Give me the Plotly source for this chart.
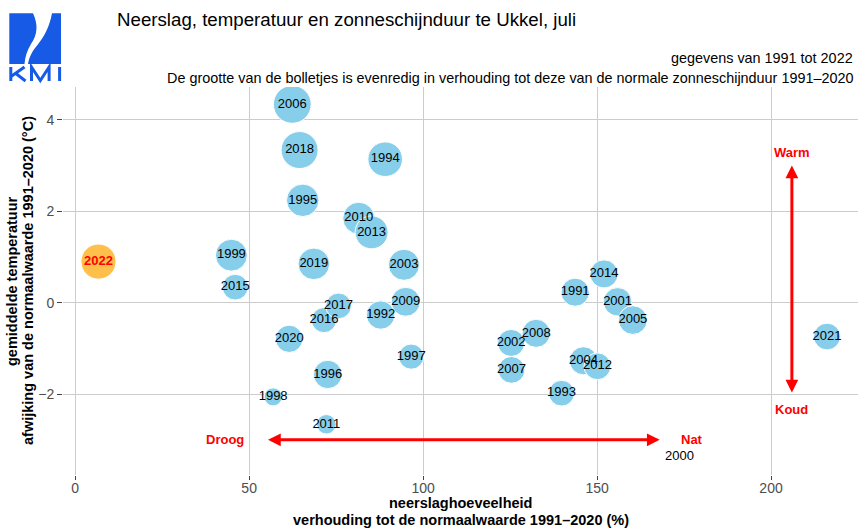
import plotly.graph_objects as go

# ---------------- data ----------------
years = list(range(1991, 2023))
rain_pct = [143.7, 87.8, 139.8, 89.1, 65.4, 72.6, 96.6, 56.9, 44.9, 173.7,
            155.9, 125.3, 94.5, 146.1, 160.3, 62.4, 125.4, 132.5, 95.0, 81.5,
            72.2, 150.1, 85.2, 152.0, 46.0, 71.5, 75.7, 64.5, 68.6, 61.5,
            216.1, 6.7]
temp_anom = [0.23, -0.27, -1.98, 3.14, 2.24, -1.57, -1.18, -2.06, 1.04, -3.37,
             0.02, -0.88, 0.83, -1.27, -0.38, 4.34, -1.47, -0.67, 0.02, 1.85,
             -2.66, -1.39, 1.54, 0.63, 0.34, -0.38, -0.07, 3.34, 0.85, -0.79,
             -0.74, 0.90]
sun_pct = [104, 105, 95, 128, 120, 105, 93, 67, 118, None,
           105, 100, 115, 104, 106, 140, 99, 104, 107, 118,
           72, 99, 122, 104, 95, 93, 95, 137, 117, 101,
           99, 130]
x_ticks = [0, 50, 100, 150, 200]
y_ticks = [-2, 0, 2, 4]

current_year = 2022

# ---------------- layout geometry ----------------
W, H = 862, 530
ML, MR, MT, MB = 63, 4, 87, 55
PW, PH = W - ML - MR, H - MT - MB
FONT = "Liberation Sans, Arial, Helvetica, sans-serif"
SKY = "#87CEEB"
ORANGE = "#FFA500"
RED = "#FF0000"


def px(x):
    return (x - ML) / PW


def py(y):
    return (H - MB - y) / PH


fig = go.Figure()

# bubbles (previous years)
bx, by, bs = [], [], []
for yr, r, t, s in zip(years, rain_pct, temp_anom, sun_pct):
    if yr != current_year and s is not None:
        bx.append(r); by.append(t); bs.append(s)
fig.add_trace(go.Scatter(
    x=bx, y=by, mode="markers",
    marker=dict(size=bs, sizemode="diameter", sizeref=3.7, color=SKY,
                line=dict(color="white", width=1), opacity=1),
    hoverinfo="skip", showlegend=False))

# current year bubble
ci = years.index(current_year)
fig.add_trace(go.Scatter(
    x=[rain_pct[ci]], y=[temp_anom[ci]], mode="markers",
    marker=dict(size=[sun_pct[ci]], sizemode="diameter", sizeref=3.7,
                color=ORANGE, line=dict(color="white", width=1)),
    hoverinfo="skip", showlegend=False))

# labels
labels = [("<b>%d</b>" % yr) if yr == current_year else str(yr) for yr in years]
colors = [RED if yr == current_year else "#000000" for yr in years]
fig.add_trace(go.Scatter(
    x=rain_pct, y=temp_anom, mode="text", text=labels,
    textposition="middle center",
    textfont=dict(family=FONT, size=13, color=colors),
    hoverinfo="skip", showlegend=False))

annotations = []

# arrows
arrow_common = dict(showarrow=True, text="", arrowcolor=RED, arrowwidth=3,
                    arrowhead=2, startarrowhead=2, arrowsize=0.85,
                    startarrowsize=0.85, arrowside="end+start",
                    axref="x", ayref="y", xref="x", yref="y",
                    standoff=0, startstandoff=0)
annotations.append(dict(x=168, y=-3, ax=55, ay=-3, **arrow_common))
annotations.append(dict(x=206, y=3, ax=206, ay=-2, **arrow_common))

red_font = dict(family=FONT, size=13, color=RED)
for txt, xx, yy in [("Droog", 43.2, -3.0), ("Nat", 177.3, -3.0),
                    ("Warm", 206, 3.28), ("Koud", 206, -2.33)]:
    annotations.append(dict(x=xx, y=yy, xref="x", yref="y", showarrow=False,
                            text="<b>%s</b>" % txt, font=red_font,
                            xanchor="center", yanchor="middle"))

# title & subtitles
annotations.append(dict(x=px(115), y=py(20), xref="paper", yref="paper",
                        xanchor="left", yanchor="middle", showarrow=False,
                        text="Neerslag, temperatuur en zonneschijnduur te Ukkel, juli",
                        font=dict(family=FONT, size=18.7, color="#000000")))
annotations.append(dict(x=px(855), y=py(58), xref="paper", yref="paper",
                        xanchor="right", yanchor="middle", showarrow=False,
                        text="gegevens van 1991 tot 2022",
                        font=dict(family=FONT, size=14.4, color="#000000")))
annotations.append(dict(x=px(855), y=py(78), xref="paper", yref="paper",
                        xanchor="right", yanchor="middle", showarrow=False,
                        text="De grootte van de bolletjes is evenredig in verhouding tot deze van de normale zonneschijnduur 1991\u20132020",
                        font=dict(family=FONT, size=14.4, color="#000000")))

# axis titles
tfont = dict(family=FONT, size=14.5, color="#000000")
annotations.append(dict(x=0.5, y=py(503), xref="paper", yref="paper",
                        showarrow=False, text="<b>neerslaghoeveelheid</b>",
                        font=tfont, xanchor="center", yanchor="middle"))
annotations.append(dict(x=0.5, y=py(520), xref="paper", yref="paper",
                        showarrow=False,
                        text="<b>verhouding tot de normaalwaarde 1991\u20132020 (%)</b>",
                        font=tfont, xanchor="center", yanchor="middle"))
annotations.append(dict(x=px(12), y=0.5, xref="paper", yref="paper",
                        showarrow=False, text="<b>gemiddelde temperatuur</b>",
                        font=tfont, textangle=-90, xanchor="center", yanchor="middle"))
annotations.append(dict(x=px(28), y=0.5, xref="paper", yref="paper",
                        showarrow=False,
                        text="<b>afwijking van de normaalwaarde 1991\u20132020 (\u00b0C)</b>",
                        font=tfont, textangle=-90, xanchor="center", yanchor="middle"))

# KMI logo
BLUE = "#165ae6"


def path(cmds):
    out = []
    for c in cmds:
        if isinstance(c, str):
            out.append(c)
        else:
            out.append("%.5f,%.5f" % (px(c[0]), py(c[1])))
    return " ".join(out)


left_piece = path(["M", (9.3, 13.3), "L", (33, 13.3),
                   "C", (38, 24), (38, 34), (31, 44),
                   "C", (27, 51), (25, 57), (24.5, 64),
                   "L", (9.3, 64), "Z"])
right_piece = path(["M", (52, 13.3), "L", (61, 13.3), "L", (61, 64),
                    "L", (28, 64),
                    "C", (29.5, 56), (33, 50), (37.5, 45),
                    "C", (44, 37), (49.5, 27), (52, 13.3), "Z"])
shapes = [dict(type="path", xref="paper", yref="paper", path=left_piece,
               fillcolor=BLUE, line=dict(width=0), layer="above"),
          dict(type="path", xref="paper", yref="paper", path=right_piece,
               fillcolor=BLUE, line=dict(width=0), layer="above")]
letters = [
    ["M", (10.8, 81), "L", (10.8, 67)],                       # K stem
    ["M", (24.5, 67), "L", (11, 76.5)],                       # K arm
    ["M", (15.5, 73.3), "L", (25.5, 81)],                     # K leg
    ["M", (31.5, 81), "L", (31.5, 67), "L", (40.3, 80.5),
     "L", (49.1, 67), "L", (49.1, 81)],                       # M
    ["M", (59.6, 67), "L", (59.6, 81)],                       # I
]
for lt in letters:
    shapes.append(dict(type="path", xref="paper", yref="paper", path=path(lt),
                       line=dict(color=BLUE, width=3), layer="above"))

fig.update_layout(
    width=W, height=H,
    margin=dict(l=ML, r=MR, t=MT, b=MB, pad=0),
    paper_bgcolor="white", plot_bgcolor="white",
    annotations=annotations, shapes=shapes,
    font=dict(family=FONT),
    xaxis=dict(range=[-3.5, 225], tickvals=x_ticks, showgrid=True,
               gridcolor="#cccccc", gridwidth=1, zeroline=False,
               showline=False, ticks="outside", ticklen=4, tickcolor="#444444",
               ticklabelstandoff=-4,
               tickfont=dict(family=FONT, size=14, color="#4d4d4d")),
    yaxis=dict(range=[-3.77, 4.72], tickvals=y_ticks, showgrid=True,
               gridcolor="#cccccc", gridwidth=1, zeroline=False,
               showline=False, ticks="outside", ticklen=5, tickcolor="#444444",
               tickfont=dict(family=FONT, size=14, color="#4d4d4d")),
)

fig.write_html("out.html", config={"displayModeBar": False},
               post_script="document.body.style.margin='0px';document.body.style.overflow='hidden';")
